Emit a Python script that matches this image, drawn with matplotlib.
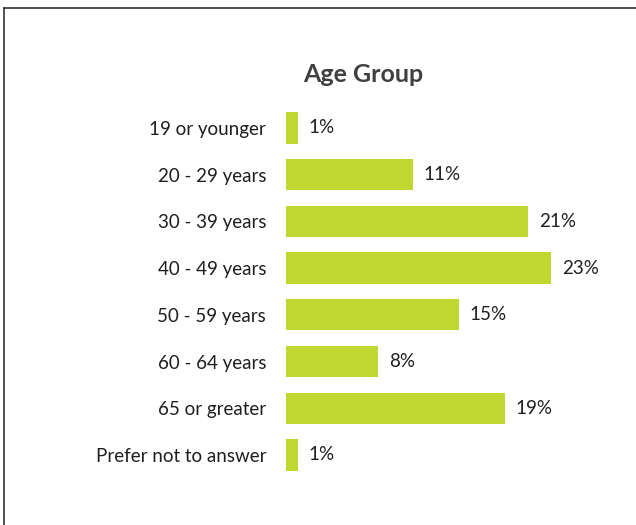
import matplotlib.pyplot as plt
from matplotlib.lines import Line2D

plt.rcParams['font.family'] = ['Lato', 'DejaVu Sans']

categories = ["19 or younger", "20 - 29 years", "30 - 39 years", "40 - 49 years",
              "50 - 59 years", "60 - 64 years", "65 or greater", "Prefer not to answer"]
shares = [1, 11, 21, 23, 15, 8, 19, 1]
value_labels = ["1%", "11%", "21%", "23%", "15%", "8%", "19%", "1%"]

bar_color = "#C0D731"
text_color = "#1f1f1f"

fig = plt.figure(figsize=(6.36, 5.25), dpi=100)
ax = fig.add_axes([0.4497, 0.0889, 0.5425, 0.7118])

ypos = list(range(len(categories)))
ax.barh(ypos, shares, height=0.67, color=bar_color, edgecolor="none")
ax.set_ylim(len(categories) - 0.5, -0.5)
ax.set_xlim(0, 30)

for y, v, lab in zip(ypos, shares, value_labels):
    ax.annotate(lab, (v, y), xytext=(8, 0), textcoords="offset points",
                ha="left", va="center", fontsize=13.5, color=text_color)

ax.set_yticks(ypos)
ax.set_yticklabels(categories, fontsize=13.5, color=text_color)
ax.tick_params(axis="y", length=0, pad=14.4)
ax.set_xticks([])
for s in ax.spines.values():
    s.set_visible(False)

fig.text(363 / 636, 1 - 75 / 525, "Age Group", ha="center", va="center",
         fontsize=18, fontweight="bold", color="#404040")

# frame lines along the top and left edge
fig.add_artist(Line2D([4 / 636, 1], [1 - 8 / 525, 1 - 8 / 525], color="#333333", lw=1.2))
fig.add_artist(Line2D([4 / 636, 4 / 636], [0, 1 - 8 / 525], color="#333333", lw=1.2))

fig.savefig("out.png", dpi=100)
